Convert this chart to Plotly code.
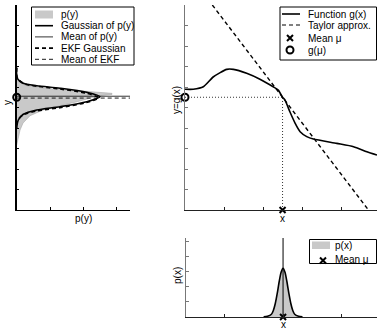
import plotly.graph_objects as go

W, H = 377, 329

# ---------------- data ----------------
mu = 2.5          # mean of x
g_mu = 5.5        # g(mu)
py_mean = 5.55    # mean of p(y)
ekf_mean = 5.46   # mean of EKF Gaussian

# function g(x)
g_x = [0, 0.21, 0.47, 0.73, 1.07, 1.24, 1.58, 1.92, 2.26, 2.39, 2.5, 2.56, 2.69, 2.82, 2.95, 3.12, 3.29,
       3.89, 4.32, 4.66, 4.92]
g_y = [5.89, 5.89, 6.01, 6.50, 6.86, 6.86, 6.67, 6.38, 6.01, 5.85, 5.5, 5.37, 4.78, 4.24, 3.82, 3.58, 3.46,
       3.25, 3.09, 2.84, 2.68]

# Taylor approximation (end points of the dashed line)
taylor_x = [0.7, 4.7]
taylor_y = [10.0, 0.0]

# p(x)
px_x = [2.0, 2.1, 2.2, 2.25, 2.3, 2.35, 2.4, 2.45, 2.5, 2.55, 2.6, 2.65, 2.7, 2.75, 2.8, 2.9, 3.0]
px_y = [0.01, 0.05, 0.18, 0.43, 0.89, 1.55, 2.32, 2.94, 3.2, 2.94, 2.32, 1.55, 0.89, 0.43, 0.18, 0.05, 0.01]

# p(y) (grey outline: density, y)
pyd_dens = [0, 0.012, 0.05, 0.155, 0.425, 0.65, 1.056, 1.43, 1.43, 1.21, 1.10, 0.906, 0.65, 0.395, 0.2,
            0.095, 0.05, 0.012, 0]
pyd_y = [6.59, 6.34, 6.2, 6.06, 5.94, 5.89, 5.80, 5.69, 5.64, 5.57, 5.46, 5.28, 5.09, 4.88, 4.6,
         4.24, 3.9, 3.41, 3.17]

# Gaussian of p(y)
gpy_dens = [0, 0.009, 0.099, 0.30, 0.65, 1.05, 1.25, 1.05, 0.65, 0.30, 0.099, 0.024, 0]
gpy_y = [6.93, 6.42, 6.18, 6.06, 5.94, 5.74, 5.52, 5.28, 5.04, 4.88, 4.67, 4.39, 4.0]

# EKF Gaussian
ekf_dens = [0, 0.01, 0.1, 0.3, 0.65, 1.04, 1.23, 1.04, 0.65, 0.3, 0.1, 0.01, 0]
ekf_y = [6.95, 6.45, 6.17, 6.04, 5.9, 5.7, 5.47, 5.24, 4.99, 4.83, 4.65, 4.35, 3.95]

LEFT_XMAX = 1.7
XMAX = 4.92
YMAX = 10
PXMAX = 5.2

FONT = "Liberation Sans, Arial, sans-serif"
GREY = "#c9c9c9"
DOT = "1px,2px"

def fx(px):
    return px / W

def fy(py):
    return 1 - py / H

fig = go.Figure()

# ---- top-left: p(y) ----
fig.add_trace(go.Scatter(x=pyd_dens, y=pyd_y, mode="lines", fill="toself", fillcolor=GREY,
                         line=dict(color="#a8a8a8", width=0.6), xaxis="x", yaxis="y"))
fig.add_trace(go.Scatter(x=gpy_dens, y=gpy_y, mode="lines", line=dict(color="black", width=1.6, shape="spline", smoothing=0.8),
                         xaxis="x", yaxis="y"))
fig.add_trace(go.Scatter(x=ekf_dens, y=ekf_y, mode="lines",
                         line=dict(color="black", width=1.6, dash="4px,3px", shape="spline", smoothing=0.8),
                         xaxis="x", yaxis="y"))
fig.add_trace(go.Scatter(x=[0, LEFT_XMAX], y=[py_mean, py_mean], mode="lines", line=dict(color="black", width=0.8),
                         xaxis="x", yaxis="y"))
fig.add_trace(go.Scatter(x=[0, LEFT_XMAX], y=[ekf_mean, ekf_mean], mode="lines",
                         line=dict(color="black", width=0.9, dash="4px,3px"), xaxis="x", yaxis="y"))
fig.add_trace(go.Scatter(x=[0], y=[g_mu], mode="markers", cliponaxis=False,
                         marker=dict(symbol="circle-open", size=7, color="black", line=dict(width=2)),
                         xaxis="x", yaxis="y"))

# ---- top-right: g(x) ----
fig.add_trace(go.Scatter(x=[0, mu], y=[g_mu, g_mu], mode="lines", line=dict(color="black", width=0.8, dash=DOT),
                         xaxis="x2", yaxis="y2"))
fig.add_trace(go.Scatter(x=[mu, mu], y=[0, g_mu], mode="lines", line=dict(color="black", width=0.8, dash=DOT),
                         xaxis="x2", yaxis="y2"))
fig.add_trace(go.Scatter(x=taylor_x, y=taylor_y, mode="lines", line=dict(color="black", width=1.4, dash="4px,3px"),
                         xaxis="x2", yaxis="y2"))
fig.add_trace(go.Scatter(x=g_x, y=g_y, mode="lines", line=dict(color="black", width=1.6, shape="spline", smoothing=0.6),
                         xaxis="x2", yaxis="y2"))
fig.add_trace(go.Scatter(x=[mu], y=[0], mode="markers", cliponaxis=False,
                         marker=dict(symbol="x-thin", size=6, color="black", line=dict(width=2, color="black")),
                         xaxis="x2", yaxis="y2"))
fig.add_trace(go.Scatter(x=[0], y=[g_mu], mode="markers", cliponaxis=False,
                         marker=dict(symbol="circle-open", size=7, color="black", line=dict(width=2)),
                         xaxis="x2", yaxis="y2"))

# ---- bottom: p(x) ----
fig.add_trace(go.Scatter(x=px_x, y=px_y, mode="lines", fill="tozeroy", fillcolor=GREY,
                         line=dict(color="black", width=1.6, shape="spline", smoothing=0.6),
                         xaxis="x3", yaxis="y3"))
fig.add_trace(go.Scatter(x=[mu, mu], y=[0, PXMAX], mode="lines", line=dict(color="black", width=1),
                         xaxis="x3", yaxis="y3"))
fig.add_trace(go.Scatter(x=[mu], y=[0], mode="markers", cliponaxis=False,
                         marker=dict(symbol="x-thin", size=6, color="black", line=dict(width=2, color="black")),
                         xaxis="x3", yaxis="y3"))

# ---- overlay pixel axes for legends ----
leg_markers_x = [290, 290, 323]
leg_markers_y = [38, 50, 260.5]
fig.add_trace(go.Scatter(x=[leg_markers_x[0]], y=[leg_markers_y[0]], mode="markers",
                         marker=dict(symbol="x-thin", size=6, color="black", line=dict(width=2, color="black")),
                         xaxis="x4", yaxis="y4"))
fig.add_trace(go.Scatter(x=[leg_markers_x[1]], y=[leg_markers_y[1]], mode="markers",
                         marker=dict(symbol="circle-open", size=7, color="black", line=dict(width=2)),
                         xaxis="x4", yaxis="y4"))
fig.add_trace(go.Scatter(x=[leg_markers_x[2]], y=[leg_markers_y[2]], mode="markers",
                         marker=dict(symbol="x-thin", size=6, color="black", line=dict(width=2, color="black")),
                         xaxis="x4", yaxis="y4"))

shapes = []
annotations = []

def rect(x0, y0, x1, y1, fill=None, lw=1):
    shapes.append(dict(type="rect", xref="x4", yref="y4", x0=x0, y0=y0, x1=x1, y1=y1,
                       line=dict(color="black", width=lw) if lw else dict(width=0),
                       fillcolor=fill if fill else "rgba(0,0,0,0)", layer="above"))

def seg(x0, x1, y, width=1.5, dash="solid"):
    shapes.append(dict(type="line", xref="x4", yref="y4", x0=x0, x1=x1, y0=y, y1=y,
                       line=dict(color="black", width=width, dash=dash), layer="above"))

def text(x, y, s, anchor="left", angle=0, size=10):
    annotations.append(dict(xref="x4", yref="y4", x=x, y=y, text=s, showarrow=False,
                            xanchor=anchor, yanchor="middle", textangle=angle,
                            font=dict(family=FONT, size=size, color="black")))

# top-left legend
rect(31.5, 7, 134, 65)
rows = [14.5, 25.7, 36.9, 48.1, 59.3]
rect(35, 10.5, 53, 18.5, fill=GREY, lw=0)
seg(35, 53, rows[1], 1.6)
seg(35, 53, rows[2], 0.8)
seg(35, 53, rows[3], 1.6, "4px,3px")
seg(35, 53, rows[4], 0.9, "4px,3px")
for r, s in zip(rows, ["p(y)", "Gaussian of p(y)", "Mean of p(y)", "EKF Gaussian", "Mean of EKF"]):
    text(58.5, r, s)

# top-right legend
rect(280, 7, 376.5, 60)
rows2 = [14, 25, 38, 50]
seg(282, 300, rows2[0], 1.6)
seg(282, 300, rows2[1], 1.0, "4px,3px")
for r, s in zip(rows2, ["Function g(x)", "Taylor approx.", "Mean \u03bc", "g(\u03bc)"]):
    text(306, r, s)

# bottom legend
rect(309.5, 239.5, 376.5, 263.5)
rect(312, 241.5, 330, 249, fill=GREY, lw=0)
text(333, 245, "p(x)")
text(333, 259.5, "Mean \u03bc")

# axis labels
text(7, 103, "y", anchor="center", angle=-90)
text(83, 218, "p(y)", anchor="center")
text(176, 100, "y=g(x)", anchor="center", angle=-90)
text(282, 218.5, "x", anchor="center")
text(177, 276, "p(x)", anchor="center", angle=-90)
text(283, 324.5, "x", anchor="center")

def axis(**kw):
    base = dict(showgrid=False, zeroline=False, showline=True, linecolor="#222", linewidth=1,
                ticks="inside", ticklen=3, tickwidth=1, tickcolor="#222", showticklabels=False,
                fixedrange=True)
    base.update(kw)
    return base

fig.update_layout(
    width=W, height=H,
    margin=dict(l=0, r=0, t=0, b=0, pad=0),
    paper_bgcolor="white", plot_bgcolor="rgba(0,0,0,0)",
    showlegend=False,
    xaxis=axis(domain=[fx(16.7), fx(130)], range=[0, LEFT_XMAX], tickvals=[0.5, 1.0, 1.5], anchor="y",
               linecolor="black", tickcolor="black"),
    yaxis=axis(domain=[fy(210), fy(5)], range=[0, YMAX], dtick=1, anchor="x", linecolor="black",
               linewidth=1.5, tickcolor="black"),
    xaxis2=axis(domain=[fx(185), 1], range=[0, XMAX], tickvals=[1, 2, 3, 4], anchor="y2"),
    yaxis2=axis(domain=[fy(210), fy(5)], range=[0, YMAX], dtick=1, anchor="x2", linecolor="#777", tickcolor="#777"),
    xaxis3=axis(domain=[fx(186), 1], range=[0, XMAX], tickvals=[1, 2.5, 4], anchor="y3"),
    yaxis3=axis(domain=[fy(317), fy(238)], range=[0, PXMAX], dtick=1, anchor="x3", linecolor="#777", tickcolor="#777"),
    xaxis4=dict(domain=[0, 1], range=[0, W], visible=False, anchor="y4", fixedrange=True),
    yaxis4=dict(domain=[0, 1], range=[H, 0], visible=False, anchor="x4", fixedrange=True),
    shapes=shapes,
    annotations=annotations,
)

fig.write_html("out.html")
